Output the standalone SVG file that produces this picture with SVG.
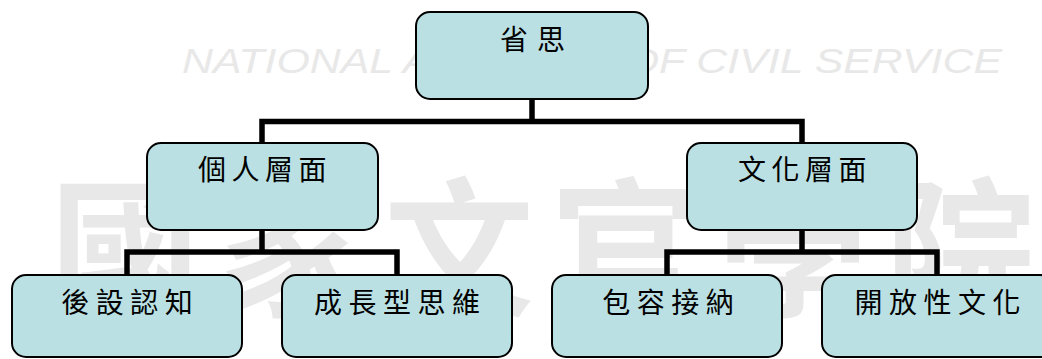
<svg xmlns="http://www.w3.org/2000/svg" width="1042" height="359" viewBox="0 0 1042 359">
  <style>
    .box { fill: #bbe0e3; stroke: #000; stroke-width: 2; }
    .lbl { font-family: "Noto Sans CJK TC", "Noto Sans CJK SC", sans-serif; font-size: 28px; fill: #000; text-anchor: middle; letter-spacing: 6.5px; }
    .conn { fill: none; stroke: #000; stroke-width: 5.5; stroke-linejoin: miter; stroke-linecap: square; }
    .wm { font-family: "Liberation Sans", Lato, sans-serif; font-style: italic; font-size: 35px; fill: #e8e8e8; }
    .cal { font-family: "Noto Sans CJK TC", "Noto Sans CJK SC", sans-serif; font-size: 150px; font-weight: 700; fill: #e8e8e8; }
  </style>
  <rect width="1042" height="359" fill="#ffffff"/>
  <g id="watermark">
    <text class="cal" x="50" y="305" textLength="985" lengthAdjust="spacing">國家文官學院</text>
    <text class="wm" x="182" y="73" textLength="820" lengthAdjust="spacingAndGlyphs">NATIONAL ACADEMY OF CIVIL SERVICE</text>
  </g>
  <g id="connectors">
    <path class="conn" d="M532 99 V121.5 M262 143 V121.5 H802 V143"/>
    <path class="conn" d="M262 230 V252 M127 275 V252 H397 V275"/>
    <path class="conn" d="M802 230 V252 M667 275 V252 H937 V275"/>
  </g>
  <g id="n-root">
    <rect class="box" x="416" y="12" width="232" height="87" rx="14"/>
    <text class="lbl" x="537" y="50" style="letter-spacing:9px">省思</text>
  </g>
  <g id="n-personal">
    <rect class="box" x="147" y="143" width="231" height="87" rx="14"/>
    <text class="lbl" x="265" y="180" style="letter-spacing:5.5px">個人層面</text>
  </g>
  <g id="n-culture">
    <rect class="box" x="687" y="143" width="230" height="87" rx="14"/>
    <text class="lbl" x="805" y="180" style="letter-spacing:5.5px">文化層面</text>
  </g>
  <g id="n-meta">
    <rect class="box" x="12" y="275" width="230" height="82" rx="14"/>
    <text class="lbl" x="130.25" y="313">後設認知</text>
  </g>
  <g id="n-growth">
    <rect class="box" x="282" y="275" width="230" height="82" rx="14"/>
    <text class="lbl" x="400.25" y="313">成長型思維</text>
  </g>
  <g id="n-inclusion">
    <rect class="box" x="552" y="275" width="230" height="82" rx="14"/>
    <text class="lbl" x="671.25" y="313">包容接納</text>
  </g>
  <g id="n-open">
    <rect class="box" x="822" y="275" width="232" height="82" rx="14"/>
    <text class="lbl" x="940.75" y="313">開放性文化</text>
  </g>
</svg>
